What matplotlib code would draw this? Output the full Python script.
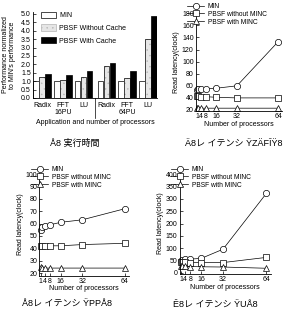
import matplotlib
matplotlib.use("Agg")
import matplotlib.pyplot as plt
import matplotlib.transforms as mtransforms
from matplotlib.patches import Patch
import numpy as np

plt.rcParams['font.family'] = ['Liberation Sans', 'Noto Sans CJK JP', 'DejaVu Sans']
plt.rcParams['axes.linewidth'] = 0.6
plt.rcParams['hatch.linewidth'] = 0.3

# ---- data ----
apps = ["Radix", "FFT", "LU", "Radix", "FFT", "LU"]
pu_groups = ["16PU", "64PU"]
bar_series = ["MIN", "PBSF Without Cache", "PBSF With Cache"]
perf_min = [1.0, 1.0, 1.0, 1.0, 1.0, 1.0]
perf_wo_cache = [1.22, 1.08, 1.22, 1.9, 1.2, 3.5]
perf_w_cache = [1.42, 1.38, 1.6, 2.08, 1.6, 4.9]
perf_ticks = [0.0, 0.5, 1.0, 1.5, 2.0, 2.5, 3.0, 3.5, 4.0, 4.5, 5.0]

procs = [1, 2, 4, 8, 16, 32, 64]
proc_ticks = [1, 4, 8, 16, 32, 64]
line_series = ["MIN", "PBSF without MINC", "PBSF with MINC"]

radix_min = [53, 54, 55, 55, 56, 60, 133]
radix_wo = [43, 43, 42, 42, 41, 40, 40]
radix_w = [24, 23, 23, 23, 23, 23, 23]

fft_min = [55, 57, 58, 59, 61, 63, 72]
fft_wo = [42, 42, 42, 42, 42, 43, 44]
fft_w = [25, 24, 24, 24, 24, 24, 24]

lu_min = [50, 52, 55, 56, 59, 96, 322]
lu_wo = [45, 44, 43, 42, 42, 42, 63]
lu_w = [30, 28, 27, 26, 25, 24, 19]

captions = ["Å8 実行時間", "Ä8レ イテンシ ŸZÄFĬŸ8", "Å8レ イテンシ ŸPPÅ8", "Ê8レ イテンシ ŸUÅ8"]

W, H = 288, 315
fig = plt.figure(figsize=(W / 100, H / 100), dpi=100)

def rect(l, t, r, b):
    return [l / W, 1 - b / H, (r - l) / W, (b - t) / H]

fs = 5
lfs = 4.8

# ---- panel a: bar chart ----
ax = fig.add_axes(rect(33, 12.3, 157, 98))
centers = np.array([0, 1, 2, 3.1, 4.1, 5.1])
bw = 0.27
off = 0.29
ax.bar(centers - off, perf_min, bw, color="white", edgecolor="black", linewidth=0.5)
ax.bar(centers, perf_wo_cache, bw, color="#e6e6e6", edgecolor="#b4b4b4", linewidth=0, hatch="...")
ax.bar(centers, perf_wo_cache, bw, color="none", edgecolor="black", linewidth=0.5)
ax.bar(centers + off, perf_w_cache, bw, color="black", edgecolor="black", linewidth=0.5)
ax.set_xlim(-0.43, 5.53)
ax.set_ylim(0, 5.1)
ax.set_yticks(perf_ticks)
ax.set_yticklabels([f"{v:.1f}" for v in perf_ticks], fontsize=fs)
ax.set_xticks(centers)
ax.set_xticklabels(apps, fontsize=fs)
ax.tick_params(axis="x", length=0, pad=3)
ax.tick_params(axis="y", length=2, width=0.5, pad=1.5, direction="in")
for s in ["top", "right"]:
    ax.spines[s].set_visible(False)
trans = mtransforms.blended_transform_factory(ax.transData, ax.transAxes)
ax.plot([2.55, 2.55], [0, -0.23], color="black", lw=0.5, transform=trans, clip_on=False)
for cx, lab in zip([1, 4.1], pu_groups):
    ax.text(cx, -0.175, lab, transform=trans, ha="center", va="center", fontsize=fs)
fig.text(95 / W, 1 - 122 / H, "Application and number of processors", ha="center", va="center", fontsize=fs)
fig.text(9 / W, 1 - 55 / H, "Performance normalized\nto MIN's performance", rotation=90,
         ha="center", va="center", fontsize=fs, linespacing=1.0)
leg_handles = [Patch(facecolor="white", edgecolor="black", linewidth=0.5),
               Patch(facecolor="#e6e6e6", edgecolor="#b4b4b4", linewidth=0.5, hatch="..."),
               Patch(facecolor="black", edgecolor="black", linewidth=0.5)]
ax.legend(leg_handles, bar_series, loc="upper left", bbox_to_anchor=(0.04, 1.04), frameon=False, fontsize=fs,
          handlelength=2.2, handleheight=1.0, labelspacing=0.75, handletextpad=0.5, borderaxespad=0)

# ---- line panels ----
def line_panel(box, mins, wos, ws, ylim, yticks, leg_xy):
    a = fig.add_axes(rect(*box))
    kw = dict(color="black", lw=0.5, ms=4.5, mfc="white", mec="black", mew=0.5, clip_on=False)
    a.plot(procs, mins, marker="o", label=line_series[0], **kw)
    a.plot(procs, wos, marker="s", label=line_series[1], **kw)
    a.plot(procs, ws, marker="^", label=line_series[2], **kw)
    a.set_xlim(0, 67)
    a.set_ylim(*ylim)
    a.set_yticks(yticks)
    a.set_yticklabels([str(v) for v in yticks], fontsize=fs)
    a.set_xticks(proc_ticks)
    a.set_xticklabels([str(v) for v in proc_ticks], fontsize=fs)
    a.tick_params(axis="both", length=2, width=0.5, pad=1.5, direction="in")
    for s in ["top", "right"]:
        a.spines[s].set_visible(False)
    a.set_xlabel("Number of processors", fontsize=fs, labelpad=0.5)
    a.set_ylabel("Read latency(clock)", fontsize=fs, labelpad=1)
    fig.legend(*a.get_legend_handles_labels(), loc="upper left",
               bbox_to_anchor=(leg_xy[0] / W, 1 - leg_xy[1] / H), frameon=False, fontsize=lfs,
               handlelength=2.6, labelspacing=0.12, handletextpad=0.5, borderaxespad=0, borderpad=0)
    return a

line_panel((195.7, 12.1, 282, 111.2), radix_min, radix_wo, radix_w, (18, 182),
           [20, 40, 60, 80, 100, 120, 140, 160, 180], (187, 3))
line_panel((39.4, 172.8, 129, 275.5), fft_min, fft_wo, fft_w, (18, 101),
           [20, 30, 40, 50, 60, 70, 80, 90, 100], (31, 166))
line_panel((179.6, 172.8, 270.5, 274.2), lu_min, lu_wo, lu_w, (-5, 405),
           [0, 50, 100, 150, 200, 250, 300, 350, 400], (171, 166))

# ---- captions ----
for (cx, cy), cap in zip([(75, 143), (234, 143), (67, 304), (215, 304)], captions):
    fig.text(cx / W, 1 - cy / H, cap, ha="center", va="center", fontsize=6.5)

fig.savefig("out.png", dpi=100)
